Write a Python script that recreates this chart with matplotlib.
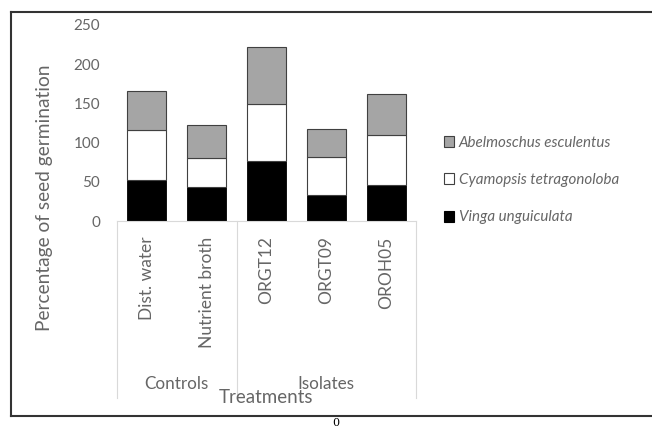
import matplotlib
matplotlib.use("Agg")
import matplotlib.pyplot as plt
from matplotlib.lines import Line2D
from matplotlib.patches import Patch
import numpy as np

plt.rcParams['font.family'] = ['Lato', 'DejaVu Sans']

# data
treatments = ["Dist. water", "Nutrient broth", "ORGT12", "ORGT09", "OROH05"]
vinga = [52, 43, 76, 33, 46]
cyamopsis = [64, 37, 73, 49, 64]
abelmoschus = [50, 42, 73, 35, 52]
groups = ["Controls", "Isolates"]
group_centers = [0.5, 3]
group_edges = [-0.5, 1.5, 4.5]

txt = '#666666'
x = np.arange(len(treatments))

fig = plt.figure(figsize=(6.52, 4.28), dpi=100)
ax = fig.add_axes([0.1794, 0.4836, 0.4586, 0.458])

w = 0.65
b1 = np.array(vinga)
b2 = b1 + np.array(cyamopsis)
ax.bar(x, vinga, w, color='black', edgecolor='black', lw=0.6)
ax.bar(x, cyamopsis, w, bottom=b1, color='white', edgecolor='#404040', lw=0.8)
ax.bar(x, abelmoschus, w, bottom=b2, color='#a5a5a5', edgecolor='#404040', lw=0.8)

ax.set_xlim(-0.5, 4.5)
ax.set_ylim(0, 250)
ax.set_yticks([0, 50, 100, 150, 200, 250])
ax.tick_params(axis='y', length=0, pad=12, labelsize=11, labelcolor=txt)
ax.set_xticks(x)
ax.set_xticklabels(treatments, rotation=90, va='top', ha='center')
ax.tick_params(axis='x', length=0, pad=11, labelsize=12.5, labelcolor=txt)
for s in ['left', 'right', 'top']:
    ax.spines[s].set_visible(False)
ax.spines['bottom'].set_color('#d9d9d9')

# hierarchical axis separators and group labels
tr = ax.get_xaxis_transform()
for e in group_edges:
    ax.plot([e, e], [0, -0.905], transform=tr, color='#d9d9d9', lw=0.8, clip_on=False)
for g, c in zip(groups, group_centers):
    ax.text(c, -0.83, g, transform=tr, ha='center', va='center', fontsize=12.3, color=txt)
ax.text(2, -0.9, "Treatments", transform=tr, ha='center', va='center', fontsize=13.5, color=txt)

fig.text(45 / 652, 1 - 198 / 428, "Percentage of seed germination", rotation=90,
         ha='center', va='center', fontsize=13.8, color=txt)

handles = [Patch(facecolor='#a5a5a5', edgecolor='#404040', lw=0.8),
           Patch(facecolor='white', edgecolor='#404040', lw=0.8),
           Patch(facecolor='black', edgecolor='black', lw=0.8)]
labels = ["Abelmoschus esculentus", "Cyamopsis tetragonoloba", "Vinga unguiculata"]
leg = fig.legend(handles, labels, loc='upper left', bbox_to_anchor=(436 / 652, 1 - 128 / 428),
                 frameon=False, fontsize=10.9, handlelength=0.7, handleheight=0.7,
                 handletextpad=0.3, labelspacing=1.55, borderpad=0)
for t in leg.get_texts():
    t.set_color(txt)
    t.set_style('italic')

# outer frame
fx0, fy0, fy1 = 11 / 652, 1 - 416 / 428, 1 - 12 / 428
for xs, ys in [([fx0, 1], [fy1, fy1]), ([fx0, fx0], [fy0, fy1]), ([fx0, 1], [fy0, fy0])]:
    fig.add_artist(Line2D(xs, ys, transform=fig.transFigure, color='#333333', lw=1.5))

fig.text(336 / 652, 1 - 423 / 428, "0", ha='center', va='center', fontsize=8,
         family='DejaVu Serif')

fig.savefig("out.png", dpi=100)
